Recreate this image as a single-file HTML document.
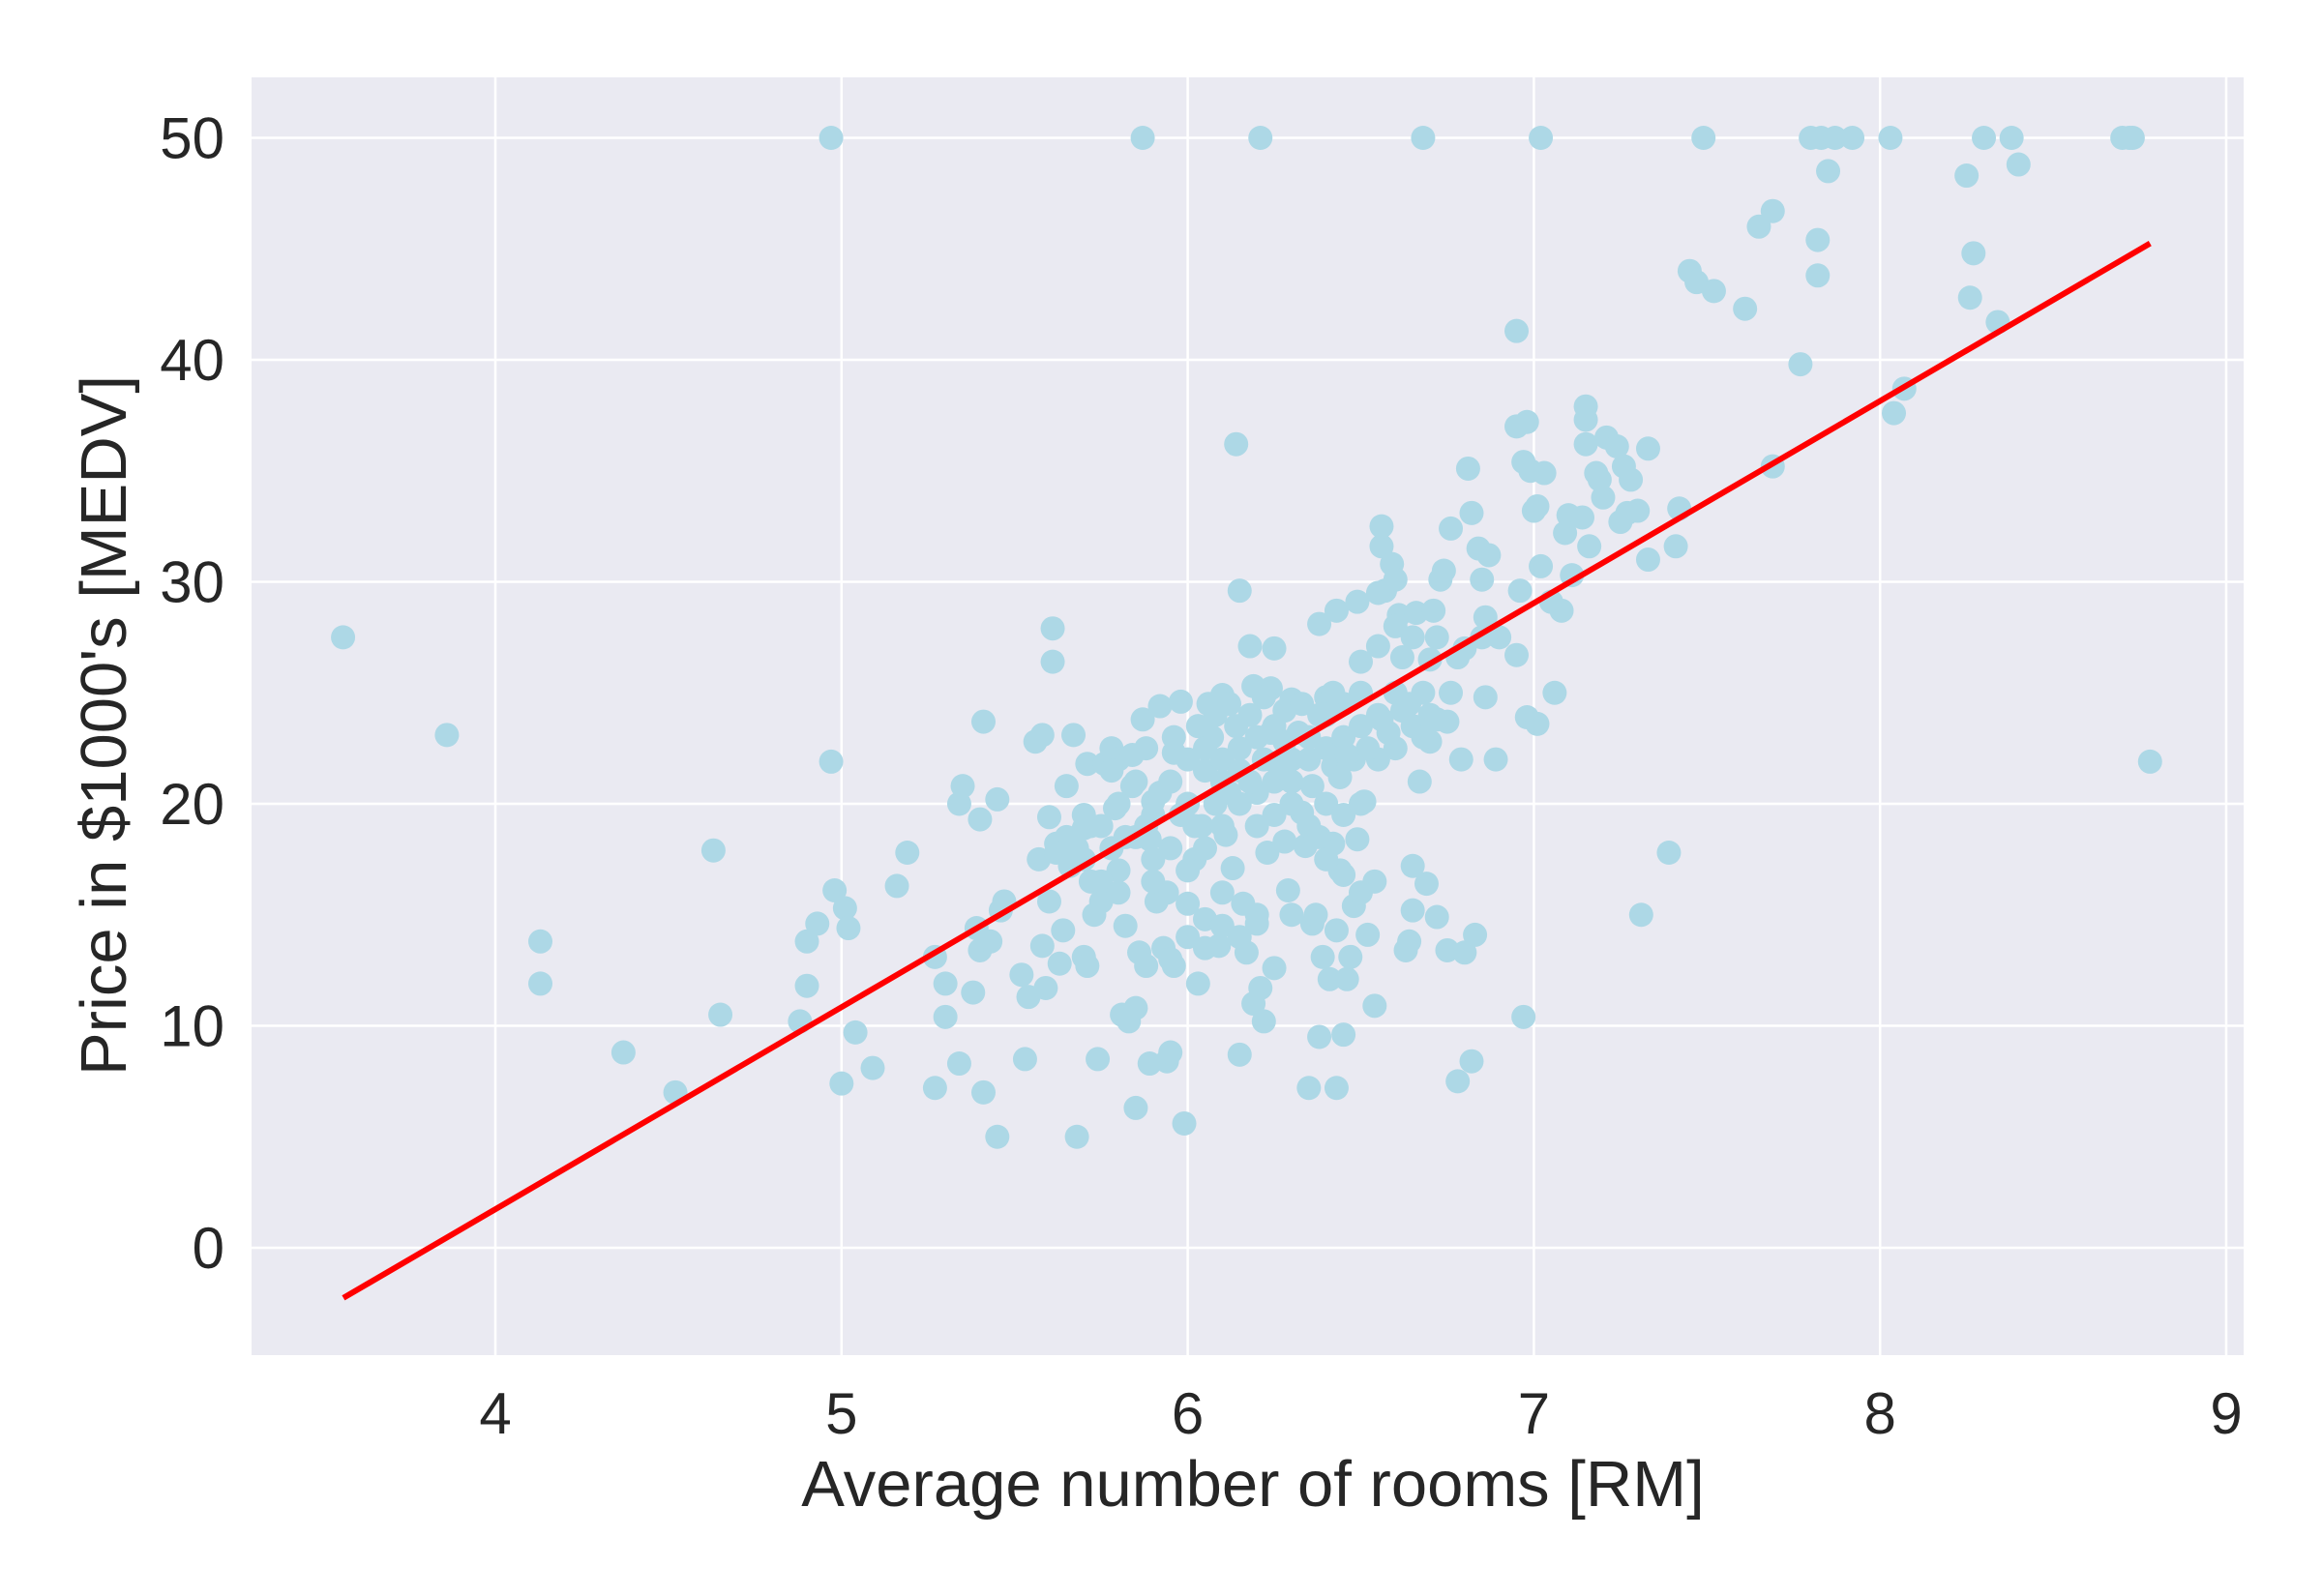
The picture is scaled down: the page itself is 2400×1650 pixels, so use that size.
<!DOCTYPE html>
<html><head><meta charset="utf-8">
<style>
html,body{margin:0;padding:0;background:#fff;}
svg{display:block;font-family:"Liberation Sans",sans-serif;}
</style></head>
<body>
<svg id="chart" width="2400" height="1650" viewBox="0 0 2400 1650" xmlns="http://www.w3.org/2000/svg">
<rect x="260" y="80" width="2059" height="1321" fill="#eaeaf2"/>
<g id="grid"></g>
<g id="pts"></g>
<g id="fit"></g>
<g id="ticks"></g>
<text x="1295" y="1557" font-size="67" fill="#262626" text-anchor="middle">Average number of rooms [RM]</text>
<text x="130" y="750" font-size="67" fill="#262626" text-anchor="middle" transform="rotate(-90 130 750)">Price in $1000's [MEDV]</text>
</svg>
<script>
const xTicks=[4,5,6,7,8,9];
const yTicks=[0,10,20,30,40,50];
const fitX=[3.561,8.780];
const fitSlope=9.102;
const fitIntercept=-34.671;
const rmValues=[3.56,3.86,4.13,4.13,4.37,4.52,4.63,4.65,4.88,4.90,4.90,4.93,4.97,4.97,4.98,5.00,5.01,5.02,5.04,5.09,5.16,5.19,5.27,5.27,5.30,5.30,5.34,5.34,5.35,5.38,5.39,5.40,5.40,5.41,5.41,5.43,5.45,5.45,5.46,5.47,5.52,5.53,5.54,5.56,5.57,5.58,5.58,5.59,5.60,5.60,5.61,5.61,5.62,5.63,5.64,5.65,5.66,5.67,5.68,5.70,5.70,5.71,5.71,5.72,5.73,5.74,5.75,5.76,5.78,5.79,5.80,5.81,5.82,5.83,5.84,5.85,5.85,5.86,5.87,5.87,5.88,5.89,5.89,5.90,5.91,5.92,5.93,5.94,5.94,5.95,5.96,5.96,5.98,5.99,6.00,6.02,6.03,6.04,6.05,6.07,6.09,6.10,6.11,6.13,6.14,6.15,6.15,6.16,6.17,6.18,6.19,6.19,6.20,6.21,6.21,6.22,6.23,6.24,6.25,6.25,6.28,6.29,6.30,6.30,6.33,6.34,6.35,6.36,6.37,6.38,6.38,6.39,6.40,6.41,6.42,6.43,6.43,6.43,6.44,6.45,6.46,6.47,6.48,6.49,6.49,6.50,6.51,6.52,6.54,6.54,6.55,6.56,6.56,6.57,6.59,6.60,6.61,6.62,6.63,6.64,6.65,6.65,6.66,6.67,6.68,6.69,6.70,6.71,6.72,6.72,6.73,6.74,6.75,6.75,6.76,6.76,6.78,6.78,6.79,6.80,6.81,6.82,6.82,6.83,6.84,6.85,6.86,6.86,6.87,6.89,6.95,6.95,6.95,6.96,6.97,6.97,6.98,6.98,6.99,7.00,7.01,7.01,7.02,7.02,7.03,7.05,7.06,7.08,7.09,7.10,7.11,7.14,7.15,7.15,7.15,7.16,7.18,7.19,7.20,7.21,7.24,7.25,7.26,7.27,7.28,7.30,7.31,7.33,7.33,7.39,7.41,7.42,7.45,7.47,7.49,7.52,7.61,7.65,7.69,7.69,7.77,7.80,7.82,7.82,7.83,7.85,7.87,7.92,8.03,8.04,8.07,8.25,8.26,8.27,8.30,8.34,8.38,8.40,8.70,8.72,8.73,8.78,
5.7,5.75,5.8,5.85,5.9,5.95,6.0,6.05,6.1,6.15,6.2,6.25,6.3,6.35,6.4,6.45,5.85,5.9,5.95,6.0,6.05,6.1,6.15,6.2,6.25,6.3,6.35,6.4,6.45,6.5,6.55,6.6,5.8,5.88,5.96,6.03,6.08,6.12,6.18,6.22,6.28,6.33,6.0,6.05,6.1,6.15,6.2,6.25,6.3,6.35,6.4,6.45,6.5,6.55,6.6,6.65,6.7,5.65,5.7,5.75,5.8,5.9,6.0,6.1,6.15,6.2,6.1,6.05,5.95,6.4,6.45,6.5,6.42,6.38,6.48,6.52,6.58,6.62,6.68,6.7,6.72,6.8,6.85,6.9,6.6,6.65,6.55,6.5,6.42,6.38,6.32,6.28,6.22,6.18,6.12,6.08,6.02,5.98,5.92,5.88,5.82,5.78,5.72,5.68,5.62,5.78,5.84,6.06,6.14,6.24,6.26,6.36,6.44,6.46,6.56,6.64,6.68];
const medvValues=[27.5,23.1,13.8,11.9,8.8,7.0,17.9,10.5,10.2,11.8,13.8,14.6,21.9,50,16.1,7.4,15.3,14.4,9.7,8.1,16.3,17.8,13.1,7.2,11.9,10.4,8.3,20.0,20.8,11.5,14.4,13.4,19.3,23.7,7.0,13.8,5.0,20.2,15.2,15.6,12.3,8.5,11.3,22.8,17.5,23.1,13.6,11.7,19.4,15.6,27.9,26.4,18.2,12.8,14.3,20.8,17.2,23.1,5.0,13.1,18.9,21.8,12.7,16.5,15.0,8.5,15.6,21.8,22.5,19.8,17.0,10.5,14.5,10.2,20.8,6.3,10.8,13.3,23.8,50,12.7,18.4,8.3,20.1,15.6,24.4,13.5,8.4,16.0,8.8,22.3,12.7,24.6,5.6,14.0,17.5,11.9,19.0,14.8,23.0,13.6,24.9,18.6,17.1,36.2,8.7,29.6,15.5,13.3,27.1,25.3,11.0,14.6,11.7,50,10.2,17.8,25.2,27.0,12.6,18.3,16.1,15.0,24.7,19.6,18.1,7.2,14.6,15.0,28.1,9.5,13.1,24.8,12.1,21.7,14.3,7.2,28.7,17.0,9.6,12.1,13.1,15.4,29.1,18.4,26.4,20.1,14.1,10.9,16.5,27.1,31.6,32.5,29.6,30.8,30.1,28.5,26.6,13.4,13.8,17.2,15.2,28.6,21.0,50,16.4,22.8,28.7,27.5,14.9,30.1,30.5,13.4,23.7,32.4,25.0,7.5,26.6,22.0,13.3,35.1,33.1,8.4,14.1,31.5,30.1,28.4,24.8,31.2,22.0,26.7,41.3,37.0,29.6,35.4,10.4,37.2,23.9,35.0,33.2,33.4,23.6,50,30.7,34.9,29.1,25.0,28.7,32.2,33.0,30.3,32.9,37.9,37.3,36.2,31.6,34.9,34.6,33.8,36.5,36.1,32.7,35.2,33.1,34.6,33.2,15.0,31.0,36.0,17.8,31.6,33.3,44.0,43.5,50,43.1,42.3,46.0,35.2,46.7,39.8,50,45.4,43.8,50,48.5,50,50,50,37.6,38.7,48.3,42.8,44.8,50,41.7,50,48.8,50,50,50,21.9,
19.5,19,20,21,19.5,21,20,21.5,22,22.5,23,23.5,22,23,24,24.5,18.5,17.5,18,17,18,19,20,20.5,21,21,22,22.5,23,23.5,24,25,22,22.5,23,23.5,24,24.5,24,24.8,24.2,24.5,22,22.5,21,21.5,19,19.5,20,19,20,19.5,20,22,22.5,23.5,24,18.5,17.5,16.5,16,16.5,15.5,16,14,15,14.5,13.5,13,17.5,16.8,16,18.2,18.5,22,22.5,23.2,24.2,25,26.5,23.8,27,27.5,27.5,28,27.5,29.5,25,25,24,23.2,22.8,22,21,20.5,20,19,19.5,20.5,19,18.5,18,19,18,17.8,21.5,22.2,24.5,23.5,23.2,21.8,20.8,21.2,22.2,23.8,24.5,23];

const X0=260,X1=2319,Y0=80,Y1=1401;
function sx(v){return 512+(v-4)*357.8;}
function sy(v){return 1290-v*22.95;}
const NS="http://www.w3.org/2000/svg";
function mk(tag,attrs,parent){const e=document.createElementNS(NS,tag);for(const k in attrs)e.setAttribute(k,attrs[k]);parent.appendChild(e);return e;}
const grid=document.getElementById('grid'),ticks=document.getElementById('ticks');
xTicks.forEach(t=>{
  const l=mk('line',{x1:sx(t),x2:sx(t),y1:Y0,y2:Y1,stroke:'#fff','stroke-width':2.5},grid);
  
  
  const tx=mk('text',{x:sx(t),y:1482,'font-size':60,fill:'#262626','text-anchor':'middle'},ticks);
  tx.textContent=t;
  
  
});
yTicks.forEach(t=>{
  const l=mk('line',{x1:X0,x2:X1,y1:sy(t),y2:sy(t),stroke:'#fff','stroke-width':2.5},grid);
  
  
  const tx=mk('text',{x:232,y:sy(t)+21,'font-size':60,fill:'#262626','text-anchor':'end'},ticks);
  tx.textContent=t;
  
  
});
const pts=document.getElementById('pts');
rmValues.forEach((x,i)=>{
  const c=mk('circle',{cx:sx(x),cy:sy(medvValues[i]),r:12.5,fill:'#add8e6'},pts);
  
  
});
const fit=document.getElementById('fit');
const ln=mk('line',{x1:sx(fitX[0]),y1:sy(fitSlope*fitX[0]+fitIntercept),x2:sx(fitX[1]),y2:sy(fitSlope*fitX[1]+fitIntercept),stroke:'#ff0000','stroke-width':6},fit);


</script>
</body></html>
